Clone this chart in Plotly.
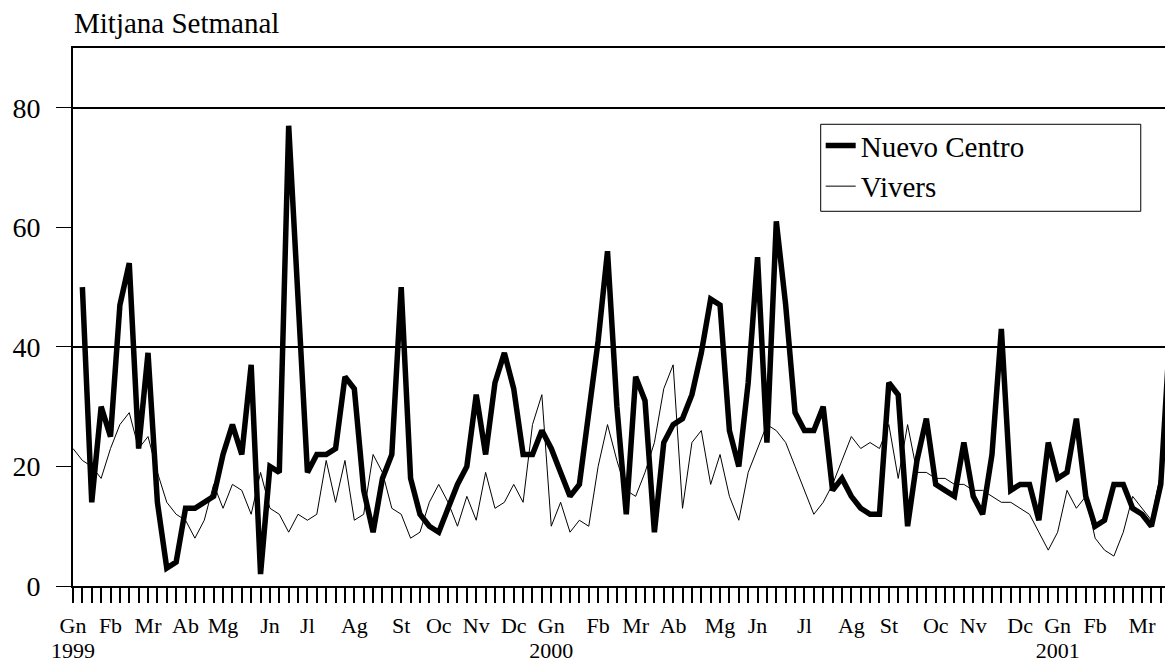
import plotly.graph_objects as go

# Week index (weekly series starting first week of January 1999)
week = list(range(118))

nuevo_centro = [None, 50, 14, 30, 25, 47, 54, 23, 39, 14,
                3, 4, 13, 13, 14, 15, 22, 27, 22, 37,
                2, 20, 19, 77, 48, 19, 22, 22, 23, 35,
                33, 16, 9, 18, 22, 50, 18, 12, 10, 9,
                13, 17, 20, 32, 22, 34, 39, 33, 22, 22,
                26, 23, 19, 15, 17, 29, 41, 56, 30, 12,
                35, 31, 9, 24, 27, 28, 32, 39, 48, 47,
                26, 20, 34, 55, 24, 61, 47, 29, 26, 26,
                30, 16, 18, 15, 13, 12, 12, 34, 32, 10,
                21, 28, 17, 16, 15, 24, 15, 12, 22, 43,
                16, 17, 17, 11, 24, 18, 19, 28, 15, 10,
                11, 17, 17, 13, 12, 10, 17, 43]

vivers = [23, 21, 20, 18, 23, 27, 29, 23, 25, 19,
          14, 12, 11, 8, 11, 17, 13, 17, 16, 12,
          19, 13, 12, 9, 12, 11, 12, 21, 14, 21,
          11, 12, 22, 19, 13, 12, 8, 9, 14, 17,
          14, 10, 15, 11, 19, 13, 14, 17, 14, 27,
          32, 10, 14, 9, 11, 10, 20, 27, 21, 16,
          15, 19, 24, 33, 37, 13, 24, 26, 17, 22,
          15, 11, 19, 23, 27, 26, 24, 20, 16, 12,
          14, 17, 21, 25, 23, 24, 23, 27, 18, 27,
          19, 19, 18, 18, 17, 17, 16, 16, 15, 14,
          14, 13, 12, 9, 6, 9, 16, 13, 15, 8,
          6, 5, 9, 15, 13, 11, 19, 30]

# Month labels (week index where each label sits)
month_weeks = [0, 4, 8, 12, 16, 21, 25, 30, 35, 39, 43, 47,
               51, 56, 60, 64, 69, 73, 78, 83, 87, 92, 96, 101,
               105, 109, 114]
month_labels = ["Gn", "Fb", "Mr", "Ab", "Mg", "Jn", "Jl", "Ag", "St", "Oc", "Nv", "Dc",
                "Gn", "Fb", "Mr", "Ab", "Mg", "Jn", "Jl", "Ag", "St", "Oc", "Nv", "Dc",
                "Gn", "Fb", "Mr"]

# Year labels (under the January labels)
year_weeks = [0, 51, 105]
year_labels = ["1999", "2000", "2001"]

y_ticks = [0, 20, 40, 60, 80]
y_grid = [40, 80]

FONT = "Liberation Serif"
X_RANGE = [0, 116.45]
Y_RANGE = [0, 90]

tick_vals = list(range(0, 117))
label_map = dict(zip(month_weeks, month_labels))
tick_text = [label_map.get(v, "") for v in tick_vals]

fig = go.Figure()
fig.add_trace(go.Scatter(x=week, y=nuevo_centro, mode="lines", name="Nuevo Centro",
                         line=dict(color="black", width=5.5), connectgaps=False,
                         legendgroup="a"))
fig.add_trace(go.Scatter(x=week, y=vivers, mode="lines", name="Vivers",
                         line=dict(color="black", width=1), xaxis="x2", yaxis="y2",
                         legendgroup="b"))

# legend frame (wider than the entries, as in the original)
fig.add_shape(type="rect", xref="paper", yref="paper",
              x0=0.6847, x1=0.9778, y0=0.6965, y1=0.8582,
              line=dict(color="black", width=1), fillcolor="white", layer="above")

fig.update_layout(
    width=1165, height=662,
    margin=dict(l=73, r=0, t=48, b=76, autoexpand=False),
    plot_bgcolor="white", paper_bgcolor="white",
    font=dict(family=FONT, color="black"),
    title=dict(text="Mitjana Setmanal", x=74 / 1165, xanchor="left", xref="container",
               y=1 - 23 / 662, yanchor="middle", yref="container",
               font=dict(family=FONT, size=29, color="black")),
    showlegend=True,
    legend=dict(x=0.6847, y=0.8660, xanchor="left", yanchor="top",
                bgcolor="rgba(0,0,0,0)", borderwidth=0,
                font=dict(family=FONT, size=29, color="black"),
                itemwidth=30, traceorder="normal", tracegroupgap=3),
    xaxis=dict(range=X_RANGE, tickmode="array", tickvals=tick_vals, ticktext=tick_text,
               ticks="outside", ticklen=15, tickwidth=1.5, tickcolor="black",
               showline=True, linecolor="black", linewidth=2, mirror=True,
               showgrid=False, zeroline=False, automargin=False,
               tickfont=dict(family=FONT, size=22, color="black"),
               ticklabelstandoff=4),
    xaxis2=dict(range=X_RANGE, overlaying="x", side="bottom", tickmode="array",
                tickvals=year_weeks, ticktext=year_labels, ticks="",
                showline=False, showgrid=False, zeroline=False, automargin=False,
                tickfont=dict(family=FONT, size=22, color="black"),
                ticklabelstandoff=49),
    yaxis=dict(range=Y_RANGE, tickmode="array", tickvals=y_ticks,
               ticks="outside", ticklen=15, tickwidth=1, tickcolor="black",
               showline=True, linecolor="black", linewidth=2,
               showgrid=False, zeroline=False, automargin=False,
               tickfont=dict(family=FONT, size=28, color="black"),
               ticklabelstandoff=10),
    yaxis2=dict(range=Y_RANGE, overlaying="y", side="left", tickmode="array",
                tickvals=y_grid, showticklabels=False, ticks="",
                showgrid=True, gridcolor="black", gridwidth=1.5,
                showline=False, zeroline=False, automargin=False),
)

fig.write_html(
    "out.html",
    config={"displayModeBar": False},
    post_script=("document.body.style.margin='0';"
                 "document.body.style.overflow='hidden';"
                 "document.documentElement.style.overflow='hidden';"),
)
